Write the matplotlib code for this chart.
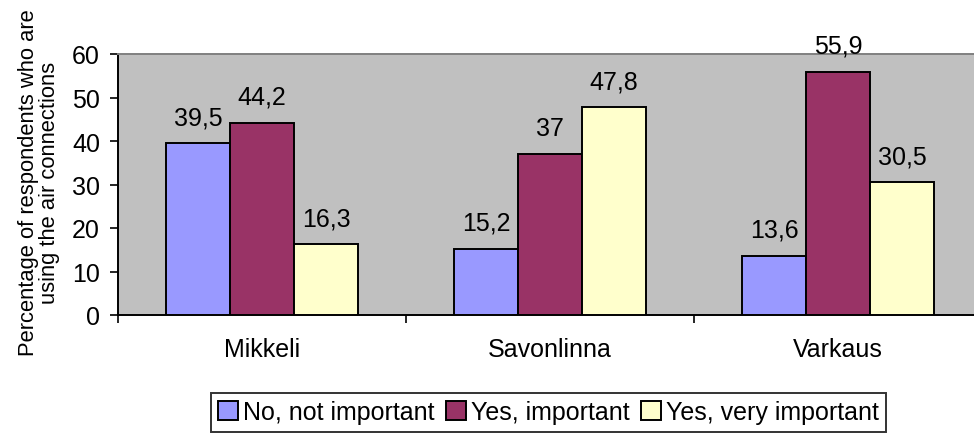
import matplotlib
matplotlib.use("Agg")
import matplotlib.pyplot as plt
import numpy as np

categories = ["Mikkeli", "Savonlinna", "Varkaus"]
series_names = ["No, not important", "Yes, important", "Yes, very important"]
no_not_important = [39.5, 15.2, 13.6]
yes_important = [44.2, 37.0, 55.9]
yes_very_important = [16.3, 47.8, 30.5]
value_labels = [["39,5", "15,2", "13,6"], ["44,2", "37", "55,9"], ["16,3", "47,8", "30,5"]]
colors = ["#9999FF", "#993366", "#FFFFCC"]

plt.rcParams['font.family'] = ['Liberation Sans', 'DejaVu Sans']

W, H = 974, 435
fig = plt.figure(figsize=(W / 100, H / 100), dpi=100)
ax = fig.add_axes([118 / W, (H - 316) / H, 864 / W, 261 / H])
ax.set_facecolor("#C0C0C0")

FS = 18
x = np.arange(len(categories))
bw = 64 / 288
series = [no_not_important, yes_important, yes_very_important]
handles = []
for i, (vals, col, name) in enumerate(zip(series, colors, series_names)):
    off = (i - 1) * bw
    bars = ax.bar(x + off, vals, width=bw, color=col, edgecolor="black",
                  linewidth=1.4, label=name, zorder=3)
    handles.append(bars)
    for xi, v, lab in zip(x + off, vals, value_labels[i]):
        ax.annotate(lab, (xi, v), xytext=(0, 19), textcoords="offset pixels",
                    ha="center", va="baseline", fontsize=FS, color="black")

ax.set_xlim(-0.5, 2.5)
ax.set_ylim(0, 60)
ax.set_yticks(np.arange(0, 61, 10))
ax.tick_params(axis="y", labelsize=FS, length=6, width=1.2, pad=7, direction="out")
ax.set_xticks([-0.5, 0.5, 1.5, 2.5])
ax.set_xticklabels([])
ax.tick_params(axis="x", which="major", length=6, width=1.2, direction="out")
ax.set_xticks(x, minor=True)
ax.set_xticklabels(categories, minor=True)
ax.tick_params(axis="x", which="minor", length=0, labelsize=FS, pad=16)

for s in ["left", "bottom"]:
    ax.spines[s].set_color("black")
    ax.spines[s].set_linewidth(1.4)
ax.spines["top"].set_color("#808080")
ax.spines["top"].set_linewidth(1.4)
ax.spines["right"].set_visible(False)

fig.text(39 / W, 1 - 183 / H,
         "Percentage of respondents who are\nusing the air connections",
         rotation=90, ha="center", va="center", multialignment="center",
         fontsize=15.8, linespacing=1.0)

leg = fig.legend(handles=handles, labels=series_names, loc="upper center",
                 bbox_to_anchor=(548.5 / W, 1 - 394 / H), ncol=3, fontsize=FS,
                 frameon=True, fancybox=False, edgecolor="black",
                 handlelength=0.8, handleheight=0.8, handletextpad=0.2,
                 columnspacing=0.45, borderpad=0.3, borderaxespad=0)
leg.get_frame().set_linewidth(1.4)

fig.savefig("out.png", dpi=100)
